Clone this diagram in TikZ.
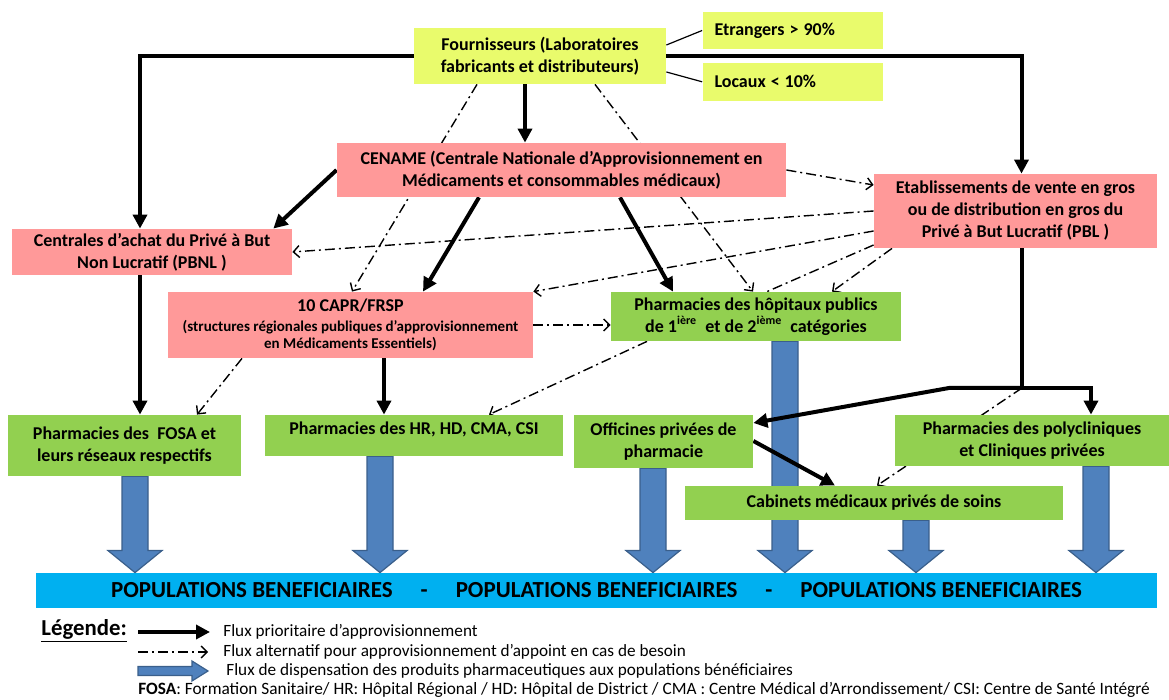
\documentclass[tikz,border=0pt]{standalone}
\usepackage{fontspec}
\setmainfont{Carlito}
\usepackage{xcolor}
\usetikzlibrary{arrows.meta, positioning, calc}

\definecolor{supplyY}{HTML}{E9FB6C}
\definecolor{centralR}{HTML}{FF9999}
\definecolor{pharmaG}{HTML}{92D050}
\definecolor{dispB}{HTML}{4F81BD}
\definecolor{dispEdge}{HTML}{3A5F8B}
\definecolor{popC}{HTML}{00B0F0}

\pgfdeclarelayer{columns}
\pgfdeclarelayer{links}
\pgfsetlayers{columns,links,main}

\newcommand{\boxfont}{\bfseries\fontsize{9}{11}\selectfont}
\newcommand{\subfont}{\fontsize{7.5}{8.5}\selectfont}

% blue dispensing arrow: x position, start anchor
\newcommand{\dispflow}[2]{%
  \draw[dispense] let \p1=(#2 -| #1,0), \p2=(pop.north) in
    (\x1-6.5pt,\y1) -- (\x1+6.5pt,\y1) -- (\x1+6.5pt,\y2+11pt) -- (\x1+13.5pt,\y2+11pt)
    -- (\x1,\y2) -- (\x1-13.5pt,\y2+11pt) -- (\x1-6.5pt,\y2+11pt) -- cycle;}

\begin{document}
\begin{tikzpicture}[
    x=0.5pt, y=-0.5pt,
    box/.style={rectangle, align=center, inner sep=2pt, font=\boxfont},
    supply/.style={box, fill=supplyY},
    central/.style={box, fill=centralR},
    pharma/.style={box, fill=pharmaG},
    flux/.style={line width=2pt, -{Triangle[length=7pt, width=7pt]}},
    trunk/.style={line width=2pt},
    alt/.style={line width=0.7pt, dash pattern=on 5pt off 2pt on 1pt off 2pt, -{Straight Barb[length=3pt, width=6pt]}},
    altline/.style={line width=0.7pt, dash pattern=on 5pt off 2pt on 1pt off 2pt},
    link/.style={line width=0.6pt},
    dispense/.style={fill=dispB, draw=dispEdge, line width=0.6pt},
    legtext/.style={anchor=west, inner sep=0pt, font=\fontsize{8.6}{10}\selectfont},
]
\useasboundingbox (0,0) rectangle (1169,700);

% suppliers
\node[supply, minimum width=126pt, minimum height=28pt] (four) at (540,56) {Fournisseurs (Laboratoires\\ fabricants et distributeurs)};
\node[supply, text width=78pt, align=left, inner xsep=6pt, minimum height=18.5pt] (etr) at (792.5,30.5) {Etrangers\hspace{2.5pt}>\hspace{2.5pt}90\%};
\node[supply, text width=78pt, align=left, inner xsep=6pt, minimum height=19pt, below=6.5pt of etr] (loc) {Locaux\hspace{2.5pt}<\hspace{2.5pt}10\%};

% central stores
\node[central, minimum width=224.5pt, minimum height=27pt] (cen) at (561.5,170) {CENAME (Centrale Nationale d’Approvisionnement en\\ Médicaments et consommables médicaux)};
\node[central, minimum width=141.5pt, minimum height=37pt] (pbl) at (1015.5,211) {Etablissements de vente en gros\\ ou de distribution en gros du\\ Privé à But Lucratif (PBL )};
\node[central, minimum width=140pt, minimum height=23pt] (pbnl) at (152,252) {Centrales d’achat du Privé à But\\ Non Lucratif (PBNL )};
\node[central, minimum width=182.5pt, minimum height=33pt] (capr) at (350.5,325) {10 CAPR/FRSP\\[-1pt] {\subfont (structures régionales publiques d’approvisionnement}\\[-2.5pt] {\subfont en Médicaments Essentiels)}};

% pharmacies
\node[pharma, minimum width=145pt, minimum height=24.5pt] (hop) at (756,316.5) {Pharmacies des hôpitaux publics\\ de 1\textsuperscript{ière}\ \ et de 2\textsuperscript{ième}\ \ catégories};
\node[pharma, minimum width=116.5pt, minimum height=30.5pt] (fosa) at (124.5,445.5) {Pharmacies des\ \ FOSA et\\ leurs réseaux respectifs};
\node[pharma, minimum width=149pt, minimum height=20.5pt, text depth=7.5pt] (hr) at (414,435.5) {Pharmacies des HR, HD, CMA, CSI};
\node[pharma, minimum width=89.5pt, minimum height=26.5pt] (off) at (663.5,441.5) {Officines privées de\\ pharmacie};
\node[pharma, minimum width=137pt, minimum height=25.5pt] (poly) at (1032,440.5) {Pharmacies des polycliniques\\ et Cliniques privées};
\node[pharma, minimum width=189pt, minimum height=17pt] (cab) at (874,503) {Cabinets médicaux privés de soins};

% beneficiaries
\node[box, fill=popC, minimum width=560.5pt, minimum height=17.5pt, font=\bfseries\fontsize{11.5}{13}\selectfont] (pop) at (596.5,590.5) {POPULATIONS BENEFICIAIRES\hspace{14pt}-\hspace{14pt}POPULATIONS BENEFICIAIRES\hspace{14pt}-\hspace{14pt}POPULATIONS BENEFICIAIRES};

\coordinate (fork) at (1022,388);
\coordinate (bend) at (949,388);

% dispensing flows
\begin{pgfonlayer}{columns}
\dispflow{135}{fosa.south}
\dispflow{380}{hr.south}
\dispflow{653}{off.south}
\dispflow{785}{hop.south}
\dispflow{916}{cab.south}
\dispflow{1096}{poly.south}
\end{pgfonlayer}

\begin{pgfonlayer}{links}
% priority supply
\draw[flux] (four.west) -| ([xshift=-6pt]pbnl.north);
\draw[flux] (four.east) -| ([xshift=3pt]pbl.north);
\draw[flux] (four.south -| 525,0) -- (cen.north -| 525,0);
\draw[flux] (cen.west) -- ([xshift=-9.5pt]pbnl.north east);
\draw[flux] (cen.south -| 479,0) -- (capr.north -| 423,0);
\draw[flux] (cen.south -| 620,0) -- (hop.north -| 673,0);
\draw[flux] (pbnl.south -| 140,0) -- (fosa.north -| 140,0);
\draw[flux] (capr.south -| 384,0) -- (hr.north -| 384,0);
\draw[trunk] (pbl.south -| fork) -- (fork);
\draw[flux] (fork) -| (poly.north -| 1091,0);
\draw[flux] (fork) -- (bend) -- (off.east |- 0,423);
\draw[flux] (off.east |- 0,441) -- (cab.north -| 835,0);

% alternative supply
\draw[alt] (four.south -| 477,0) -- (capr.north -| 352,0);
\draw[alt] (four.south -| 595,0) -- (hop.north -| 753,0);
\draw[alt] (cen.east) -- (pbl.west |- 0,185);
\draw[alt] (pbl.west |- 0,211) -- (pbnl.east);
\draw[alt] (pbl.west |- 0,231) -- (capr.north east);
\draw[altline] (pbl.west |- 0,245) -- (hop.north -| 767,0);
\draw[alt] (pbl.south -| 892,0) -- (hop.north -| 832,0);
\draw[alt] (capr.east) -- (hop.west |- capr.east);
\draw[alt] (hop.south -| 647,0) -- (hr.north -| 489,0);
\draw[alt] (capr.south -| 242,0) -- (fosa.north -| 197,0);
\draw[alt] (fork) -- (cab.north -| 877,0);

% shares of suppliers
\draw[link] (four.east |- 0,45) -- (etr.west);
\draw[link] (four.east |- 0,72) -- (loc.west);
\end{pgfonlayer}

% legend
\node[anchor=west, inner sep=0pt, font=\bfseries\fontsize{11.4}{13}\selectfont] (leg) at (41,631) {\underline{Légende:}};
\node[legtext] (lg1) at (223,632) {Flux prioritaire d’approvisionnement};
\node[legtext] (lg2) at (223,652) {Flux alternatif pour approvisionnement d’appoint en cas de besoin};
\node[legtext] (lg3) at (226,671) {Flux de dispensation des produits pharmaceutiques aux populations bénéficiaires};
\node[legtext, font=\fontsize{8.65}{10}\selectfont] (foot) at (138,690) {\textbf{FOSA}: Formation Sanitaire/ HR: Hôpital Régional / HD: Hôpital de District / CMA : Centre Médical d’Arrondissement/ CSI: Centre de Santé Intégré};

\draw[flux] ([xshift=-42.5pt]lg1.west) -- ([xshift=-6.5pt]lg1.west);
\draw[alt] ([xshift=-42.5pt]lg2.west) -- ([xshift=-7.5pt]lg2.west);
\draw[dispense] ([shift={(-44pt,2.25pt)}]lg3.west) -- ([shift={(-17pt,2.25pt)}]lg3.west)
  -- ([shift={(-17pt,5pt)}]lg3.west) -- ([shift={(-9pt,0pt)}]lg3.west)
  -- ([shift={(-17pt,-5pt)}]lg3.west) -- ([shift={(-17pt,-2.25pt)}]lg3.west)
  -- ([shift={(-44pt,-2.25pt)}]lg3.west) -- cycle;
\end{tikzpicture}
\end{document}
